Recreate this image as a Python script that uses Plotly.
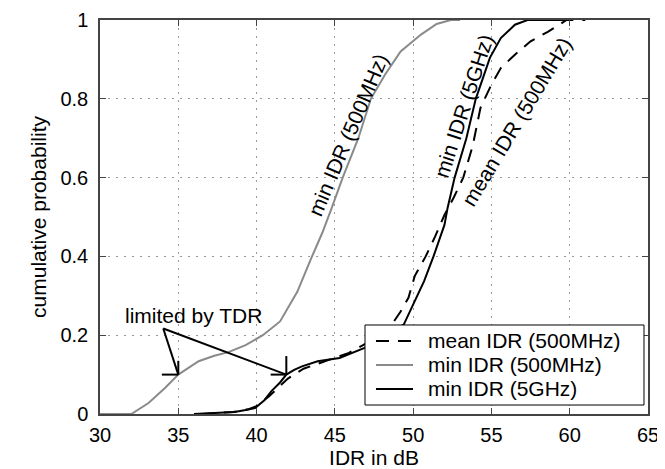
import plotly.graph_objects as go

# ---- data ----
grey_x = [30, 32.0, 33.1, 34.15, 35.0, 36.3, 37.3, 38.2, 39.3, 40.4, 41.5, 42.6, 43.5, 44.2, 44.8,
          45.5, 46.5, 47.3, 48.2, 49.2, 50.5, 51.5, 52.4, 53.0]
grey_y = [0, 0, 0.028, 0.066, 0.10, 0.134, 0.148, 0.157, 0.175, 0.20, 0.235, 0.31, 0.396, 0.46, 0.523,
          0.60, 0.70, 0.80, 0.861, 0.92, 0.963, 0.99, 1.0, 1.0]

solid_x = [36.0, 37.5, 38.6, 39.3, 39.9, 40.5, 40.95, 41.5, 41.9, 42.4, 42.9, 43.9, 45.3, 46.9, 48.4,
           49.4, 50.1, 50.7, 51.3, 52.0, 52.2, 52.65, 53.4, 54.0, 54.9, 55.6, 56.5, 57.3, 60.0]
solid_y = [0, 0.002, 0.005, 0.01, 0.015, 0.035, 0.058, 0.08, 0.10, 0.112, 0.121, 0.134, 0.142, 0.168, 0.206,
           0.227, 0.286, 0.337, 0.40, 0.48, 0.523, 0.60, 0.70, 0.80, 0.904, 0.954, 0.988, 1.0, 1.0]

dash_x = [36.5, 38.5, 39.5, 40.0, 40.8, 41.5, 42.0, 43.0, 44.5, 45.9, 46.2, 47.5, 48.6, 49.2, 49.7,
          50.1, 50.8, 51.4, 52.0, 52.6, 53.2, 53.8, 54.3, 55.0, 55.6, 56.5, 57.5, 58.6, 59.4, 59.8, 61.0]
dash_y = [0, 0.005, 0.012, 0.02, 0.045, 0.07, 0.09, 0.115, 0.135, 0.155, 0.162, 0.19, 0.225, 0.26, 0.295,
          0.35, 0.40, 0.45, 0.505, 0.55, 0.60, 0.68, 0.777, 0.836, 0.878, 0.912, 0.946, 0.97, 0.99, 1.0, 1.0]

series_names = ["mean IDR (500MHz)", "min IDR (500MHz)", "min IDR (5GHz)"]

x_ticks = [30, 35, 40, 45, 50, 55, 60, 65]
y_ticks = [0, 0.2, 0.4, 0.6, 0.8, 1]
y_tick_labels = ["0", "0.2", "0.4", "0.6", "0.8", "1"]

# annotation "limited by TDR"
tdr_text = "limited by TDR"
tdr_text_pos = (35.96, 0.249)
tdr_origin = (34.04, 0.217)
tdr_tips = [(35.0, 0.10), (41.9, 0.10)]
tdr_tick_len = [(1.05, 0.035), (1.0, 0.047)]

# curve labels (text, x, y, angle)
curve_labels = [
    ("min IDR (500MHz)", 45.85, 0.709, -67),
    ("min IDR (5GHz)", 53.2, 0.781, -72),
    ("mean IDR (500MHz)", 56.6, 0.743, -59),
]

FONT = "Liberation Sans, Arial, Helvetica, sans-serif"
FS_TICK = 20
FS = 21

styles = [
    dict(color="black", width=2, dash="13px,9px"),
    dict(color="#8a8a8a", width=2),
    dict(color="black", width=2),
]
xs = [dash_x, grey_x, solid_x]
ys = [dash_y, grey_y, solid_y]

fig = go.Figure()
for name, x, y, st in zip(series_names, xs, ys, styles):
    fig.add_trace(go.Scatter(x=x, y=y, mode="lines", name=name, line=st, showlegend=False))

# TDR pointer lines
for (tx, ty), (hl, vl) in zip(tdr_tips, tdr_tick_len):
    fig.add_shape(type="line", x0=tdr_origin[0], y0=tdr_origin[1], x1=tx, y1=ty,
                  line=dict(color="black", width=2), xref="x", yref="y")
    fig.add_shape(type="line", x0=tx - hl, y0=ty, x1=tx, y1=ty,
                  line=dict(color="black", width=2), xref="x", yref="y")
    fig.add_shape(type="line", x0=tx, y0=ty, x1=tx, y1=ty + vl,
                  line=dict(color="black", width=2), xref="x", yref="y")

fig.add_annotation(x=tdr_text_pos[0], y=tdr_text_pos[1], text=tdr_text, showarrow=False,
                   font=dict(family=FONT, size=FS, color="black"), xref="x", yref="y")

for txt, lx, ly, ang in curve_labels:
    fig.add_annotation(x=lx, y=ly, text=txt, textangle=ang, showarrow=False,
                       font=dict(family=FONT, size=FS, color="black"), xref="x", yref="y")

# legend box (drawn, positions in plot-area fractions)
leg_box = dict(x0=0.4836, x1=0.9927, y0=0.0228, y1=0.2259)
leg_rows = [0.1853, 0.1244, 0.0635]
leg_sample = (0.5036, 0.5712)
leg_text_x = 0.5949
fig.add_shape(type="rect", xref="x domain", yref="y domain", **leg_box,
              line=dict(color="black", width=1), fillcolor="white", layer="above")
for name, st, ry in zip(series_names, styles, leg_rows):
    fig.add_shape(type="line", xref="x domain", yref="y domain",
                  x0=leg_sample[0], x1=leg_sample[1], y0=ry, y1=ry, line=st, layer="above")
    fig.add_annotation(xref="x domain", yref="y domain", x=leg_text_x, y=ry, text=name,
                       xanchor="left", yanchor="middle", showarrow=False,
                       font=dict(family=FONT, size=FS, color="black"))

axis_common = dict(
    showline=True, linecolor="#444", linewidth=1.5, mirror="ticks",
    ticks="inside", ticklen=6, tickcolor="#444", tickwidth=1,
    showgrid=True, gridcolor="#999", gridwidth=1, griddash="2px,6px",
    zeroline=False, tickfont=dict(family=FONT, size=FS_TICK, color="black"),
    automargin=False,
)

fig.update_xaxes(range=[30, 65], tickvals=x_ticks, ticktext=[str(t) for t in x_ticks],
                 ticklabelstandoff=2,
                 title=dict(text="IDR in dB", font=dict(family=FONT, size=FS, color="black"), standoff=0),
                 **axis_common)
fig.update_yaxes(range=[0, 1], tickvals=y_ticks, ticktext=y_tick_labels,
                 ticklabelstandoff=6,
                 title=dict(text="cumulative probability", font=dict(family=FONT, size=FS, color="black"), standoff=8),
                 **axis_common)

fig.update_layout(
    width=665, height=469,
    margin=dict(l=92, r=25, t=12, b=63, autoexpand=False),
    paper_bgcolor="white", plot_bgcolor="white",
    font=dict(family=FONT, size=FS, color="black"),
    showlegend=False,
)

fig.write_html("out.html")
